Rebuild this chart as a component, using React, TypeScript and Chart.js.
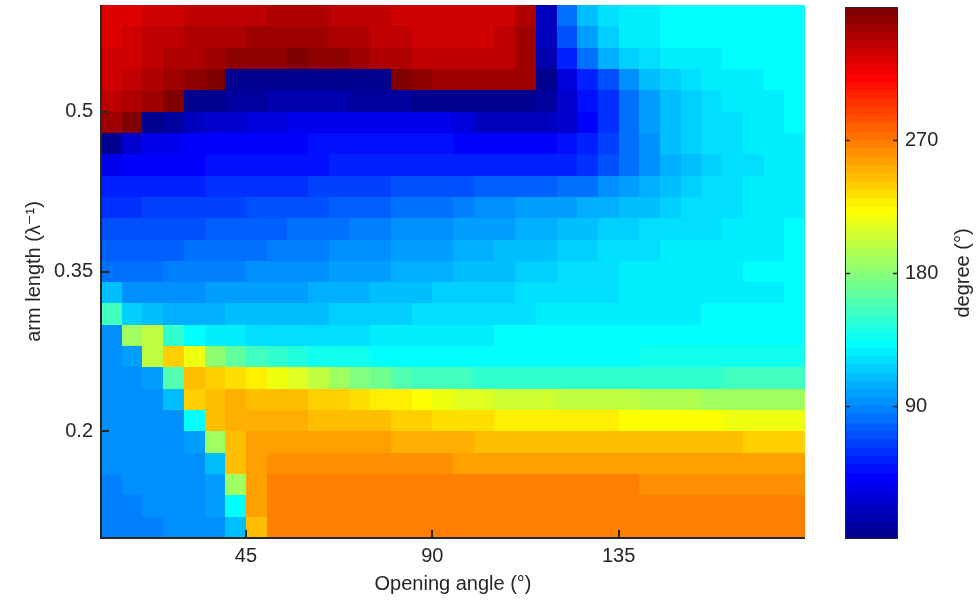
import React, { useEffect, useRef } from 'react';
import { Chart, registerables } from 'chart.js';

Chart.register(...registerables);

const FONT = "'Liberation Sans', 'DejaVu Sans', Arial, sans-serif";
const TEXT = '#262626';

// ---- data -------------------------------------------------------------
// cell centres: opening angle (deg) and arm length (1/lambda)
const openingAngles = [12.5, 17.5, 22.5, 27.5, 32.5, 37.5, 42.5, 47.5, 52.5, 57.5, 62.5, 67.5, 72.5, 77.5, 82.5, 87.5, 92.5, 97.5, 102.5, 107.5, 112.5, 117.5, 122.5, 127.5, 132.5, 137.5, 142.5, 147.5, 152.5, 157.5, 162.5, 167.5, 172.5, 177.5];
const armLengths = [0.59, 0.57, 0.55, 0.53, 0.51, 0.49, 0.47, 0.45, 0.43, 0.41, 0.39, 0.37, 0.35, 0.33, 0.31, 0.29, 0.27, 0.25, 0.23, 0.21, 0.19, 0.17, 0.15, 0.13, 0.11];

const angleRange = [10, 180];
const armRange = [0.1, 0.6];
const phaseRange = [0, 360];

const xTickValues = [45, 90, 135];
const yTickValues = [0.2, 0.35, 0.5];
const cbTickValues = [90, 180, 270];

// phase (degree), one row per arm length, columns follow openingAngles
const phase_059 = [325,328,331,334,337,338,339,340,341,341,341,340,338,336,333,331,330,330,331,334,343,25,85,110,124,130,132,133,134,135,135,135,136,136];
const phase_057 = [327,331,335,338,341,343,345,346,347,347,346,344,341,339,336,334,333,333,334,337,347,22,73,103,120,128,131,133,134,134,135,135,135,135];
const phase_055 = [330,334,338,342,345,349,352,355,357,358,357,352,348,345,342,340,338,337,337,339,348,15,55,85,108,120,125,128,130,132,133,134,135,135];
const phase_053 = [333,338,343,347,352,358,3,3,4,5,5,4,3,2,358,353,349,347,346,347,350,8,35,55,72,95,110,118,123,127,129,131,133,134];
const phase_051 = [338,343,350,358,3,6,10,13,15,16,16,15,14,12,10,8,7,5,4,4,5,12,30,48,62,82,103,115,120,124,127,130,132,134];
const phase_049 = [346,358,5,12,20,26,30,33,35,37,38,38,38,38,38,38,38,32,24,20,20,22,30,45,60,82,99,112,117,121,125,128,131,134];
const phase_047 = [8,30,38,42,43,44,45,46,47,47,48,48,49,50,50,50,48,46,45,45,45,46,48,55,67,83,98,110,117,121,126,128,130,132];
const phase_045 = [42,44,45,46,47,48,49,50,51,52,53,54,55,56,57,57,57,57,56,56,56,57,58,62,72,86,98,108,115,119,123,126,129,132];
const phase_043 = [55,56,57,58,59,60,61,62,63,64,65,67,68,70,71,73,74,75,76,77,78,80,82,86,95,102,107,112,117,121,124,127,130,132];
const phase_041 = [63,64,65,66,67,68,70,71,72,74,75,77,79,81,83,85,87,90,93,96,99,101,103,106,108,112,115,118,121,123,126,128,130,132];
const phase_039 = [71,72,73,74,75,77,78,80,81,83,85,87,89,91,93,95,97,100,102,104,106,108,111,113,116,119,121,123,125,126,128,129,131,133];
const phase_037 = [78,79,80,81,82,84,85,87,88,90,92,94,96,98,100,102,104,106,108,110,112,114,116,118,121,123,125,127,128,129,130,131,132,134];
const phase_035 = [85,86,87,88,89,90,92,93,95,97,98,100,102,104,105,107,109,111,113,115,117,119,121,123,126,128,130,131,131,132,132,133,133,134];
const phase_033 = [110,96,96,97,98,99,100,101,102,104,105,107,109,111,113,115,117,118,119,120,121,122,123,124,126,127,128,129,130,130,131,131,132,133];
const phase_031 = [160,120,110,108,108,109,110,111,112,113,114,116,118,119,120,121,122,123,124,125,126,127,128,129,130,130,131,132,132,133,133,134,134,135];
const phase_029 = [98,190,200,150,135,130,128,126,125,125,125,125,126,128,129,130,131,132,132,133,133,134,134,134,135,135,135,135,135,135,135,135,135,135];
const phase_027 = [95,102,200,240,222,188,166,158,150,145,142,140,138,137,136,136,135,135,135,135,135,136,136,136,137,137,138,139,140,140,141,141,141,142];
const phase_025 = [95,96,102,165,248,243,238,228,222,212,200,190,180,172,165,160,157,155,153,152,151,150,150,150,150,151,152,153,153,154,155,155,156,156];
const phase_023 = [94,95,98,110,240,250,251,250,248,246,243,240,236,232,228,225,220,216,212,210,208,206,205,204,202,200,198,196,195,193,192,191,190,190];
const phase_021 = [95,95,95,98,135,245,252,253,252,251,250,249,247,245,243,241,239,237,235,233,232,231,230,229,228,227,226,225,224,223,222,222,222,222];
const phase_019 = [93,94,94,96,104,190,250,256,257,258,258,258,257,256,254,253,252,251,250,250,249,249,248,248,247,247,246,246,245,245,245,244,244,244];
const phase_017 = [93,93,94,95,98,115,245,258,265,265,265,265,265,264,263,262,262,261,261,260,260,260,259,259,259,258,258,258,258,257,257,257,257,257];
const phase_015 = [92,93,93,94,97,104,190,260,268,269,270,270,270,270,270,270,270,270,270,270,270,270,269,269,268,268,267,267,267,267,267,267,267,267];
const phase_013 = [92,92,93,93,95,100,135,258,270,270,270,270,270,270,270,270,270,270,270,270,270,270,270,270,270,270,270,270,270,270,270,270,270,270];
const phase_011 = [92,92,92,93,94,98,115,248,270,270,270,270,270,270,270,270,270,270,270,270,270,270,270,270,270,270,270,270,270,270,270,270,270,270];

const phaseRows = [
  phase_059, phase_057, phase_055, phase_053, phase_051, phase_049, phase_047, phase_045,
  phase_043, phase_041, phase_039, phase_037, phase_035, phase_033, phase_031, phase_029,
  phase_027, phase_025, phase_023, phase_021, phase_019, phase_017, phase_015, phase_013, phase_011,
];

// ---- MATLAB jet(64) ---------------------------------------------------
function jetColor(idx: number): string {
  let r = 0, g = 0, b = 0;
  if (idx >= 25 && idx <= 40) r = (idx - 24) / 16;
  else if (idx >= 41 && idx <= 56) r = 1;
  else if (idx >= 57) r = (72 - idx) / 16;
  if (idx >= 9 && idx <= 24) g = (idx - 8) / 16;
  else if (idx >= 25 && idx <= 39) g = 1;
  else if (idx >= 40 && idx <= 55) g = (56 - idx) / 16;
  if (idx <= 8) b = (idx + 8) / 16;
  else if (idx <= 23) b = 1;
  else if (idx <= 39) b = (40 - idx) / 16;
  return `rgb(${Math.round(r * 255)},${Math.round(g * 255)},${Math.round(b * 255)})`;
}
function valueColor(v: number): string {
  const t = (v - phaseRange[0]) / (phaseRange[1] - phaseRange[0]);
  const idx = Math.max(1, Math.min(64, Math.round(t * 64)));
  return jetColor(idx);
}

function edges(centres: number[], i: number): [number, number] {
  const c = centres[i];
  const lo = i > 0 ? (c + centres[i - 1]) / 2 : c - (centres[1] - centres[0]) / 2;
  const hi = i < centres.length - 1 ? (c + centres[i + 1]) / 2 : c + (c - centres[i - 1]) / 2;
  return [lo, hi];
}

const heatmapPlugin = {
  id: 'heatmap',
  beforeDatasetsDraw(chart: any) {
    const { ctx, scales } = chart;
    const xs = scales.x, ys = scales.y;
    ctx.save();
    for (let i = 0; i < armLengths.length; i++) {
      const [ya, yb] = edges(armLengths, i);
      const p1 = Math.round(ys.getPixelForValue(ya));
      const p2 = Math.round(ys.getPixelForValue(yb));
      const row = phaseRows[i];
      for (let j = 0; j < openingAngles.length; j++) {
        const [xa, xb] = edges(openingAngles, j);
        const q1 = Math.round(xs.getPixelForValue(xa));
        const q2 = Math.round(xs.getPixelForValue(xb));
        ctx.fillStyle = valueColor(row[j]);
        ctx.fillRect(Math.min(q1, q2), Math.min(p1, p2), Math.abs(q2 - q1), Math.abs(p2 - p1));
      }
    }
    ctx.restore();
  },
  afterDraw(chart: any) {
    const { ctx, chartArea: a, scales } = chart;
    ctx.save();
    ctx.fillStyle = TEXT;
    ctx.fillRect(a.left - 1, a.top, 2, a.bottom - a.top + 1);
    ctx.fillRect(a.left - 1, a.bottom - 1, a.right - a.left + 1, 2);
    xTickValues.forEach((v) => {
      const p = Math.round(scales.x.getPixelForValue(v));
      ctx.fillRect(p - 1, a.bottom - 8, 2, 8);
    });
    yTickValues.forEach((v) => {
      const p = Math.round(scales.y.getPixelForValue(v));
      ctx.fillRect(a.left, p - 1, 8, 2);
    });
    ctx.restore();
  },
};

const colorbarPlugin = {
  id: 'colorbar',
  beforeDatasetsDraw(chart: any) {
    const { ctx, chartArea: a, scales } = chart;
    const ys = scales.y;
    const span = phaseRange[1] - phaseRange[0];
    ctx.save();
    for (let k = 1; k <= 64; k++) {
      const p0 = Math.round(ys.getPixelForValue(phaseRange[0] + ((k - 1) * span) / 64));
      const p1 = Math.round(ys.getPixelForValue(phaseRange[0] + (k * span) / 64));
      ctx.fillStyle = jetColor(k);
      ctx.fillRect(a.left, p1, a.right - a.left, p0 - p1);
    }
    ctx.strokeStyle = TEXT;
    ctx.lineWidth = 1;
    ctx.strokeRect(a.left + 0.5, a.top + 0.5, a.right - a.left - 1, a.bottom - a.top - 1);
    ctx.lineWidth = 1.5;
    cbTickValues.forEach((v) => {
      const p = Math.round(ys.getPixelForValue(v)) + 0.5;
      ctx.beginPath();
      ctx.moveTo(a.left, p);
      ctx.lineTo(a.left + 5, p);
      ctx.moveTo(a.right - 5, p);
      ctx.lineTo(a.right, p);
      ctx.stroke();
    });
    ctx.translate(chart.width - 13, (a.top + a.bottom) / 2);
    ctx.rotate(-Math.PI / 2);
    ctx.textAlign = 'center';
    ctx.textBaseline = 'middle';
    ctx.font = `20px ${FONT}`;
    ctx.fillStyle = TEXT;
    ctx.fillText('degree (°)', 0, 0);
    ctx.restore();
  },
};

const noPadY = (w: number) => (s: any) => {
  s.width = w;
  s.paddingTop = 0;
  s.paddingBottom = 0;
};

export default function App() {
  const mainRef = useRef<HTMLCanvasElement>(null);
  const barRef = useRef<HTMLCanvasElement>(null);

  useEffect(() => {
    const tickFont = { family: FONT, size: 20 };
    const main = new Chart(mainRef.current as HTMLCanvasElement, {
      type: 'scatter',
      data: { datasets: [] },
      options: {
        animation: false,
        responsive: false,
        layout: { padding: { left: 0, right: 25, top: 5, bottom: 0 } },
        plugins: { legend: { display: false }, tooltip: { enabled: false } },
        scales: {
          x: {
            type: 'linear',
            min: angleRange[0],
            max: angleRange[1],
            afterBuildTicks: (s: any) => { s.ticks = xTickValues.map((v) => ({ value: v })); },
            afterFit: (s: any) => { s.height = 64; s.paddingLeft = 0; s.paddingRight = 0; },
            grid: { display: false, drawTicks: false },
            border: { display: false },
            ticks: { color: TEXT, font: tickFont, padding: 6, maxRotation: 0, autoSkip: false, callback: (v: any) => String(v) },
            title: { display: true, text: 'Opening angle (°)', color: TEXT, font: tickFont, padding: { top: 0, bottom: 6 } },
          },
          y: {
            type: 'linear',
            min: armRange[0],
            max: armRange[1],
            afterBuildTicks: (s: any) => { s.ticks = yTickValues.map((v) => ({ value: v })); },
            afterFit: noPadY(101),
            grid: { display: false, drawTicks: false },
            border: { display: false },
            ticks: { color: TEXT, font: tickFont, padding: 8, autoSkip: false, callback: (v: any) => String(v) },
            title: { display: true, text: 'arm length (λ⁻¹)', color: TEXT, font: tickFont, padding: { top: 22, bottom: 0 } },
          },
        },
      } as any,
      plugins: [heatmapPlugin],
    });

    const bar = new Chart(barRef.current as HTMLCanvasElement, {
      type: 'scatter',
      data: { datasets: [] },
      options: {
        animation: false,
        responsive: false,
        layout: { padding: { left: 15, right: 0, top: 7, bottom: 63 } },
        plugins: { legend: { display: false }, tooltip: { enabled: false } },
        scales: {
          x: { type: 'linear', display: false, min: 0, max: 1 },
          y: {
            type: 'linear',
            position: 'right',
            min: phaseRange[0],
            max: phaseRange[1],
            afterBuildTicks: (s: any) => { s.ticks = cbTickValues.map((v) => ({ value: v })); },
            afterFit: noPadY(78),
            grid: { display: false, drawTicks: false },
            border: { display: false },
            ticks: { color: TEXT, font: tickFont, padding: 7, autoSkip: false, callback: (v: any) => String(v) },
          },
        },
      } as any,
      plugins: [colorbarPlugin],
    });

    return () => {
      main.destroy();
      bar.destroy();
    };
  }, []);

  return (
    <div style={{ position: 'absolute', left: 0, top: 0, width: 976, height: 602, background: '#ffffff' }}>
      <canvas ref={mainRef} width={830} height={602} style={{ position: 'absolute', left: 0, top: 0 }} />
      <canvas ref={barRef} width={146} height={602} style={{ position: 'absolute', left: 830, top: 0 }} />
    </div>
  );
}
